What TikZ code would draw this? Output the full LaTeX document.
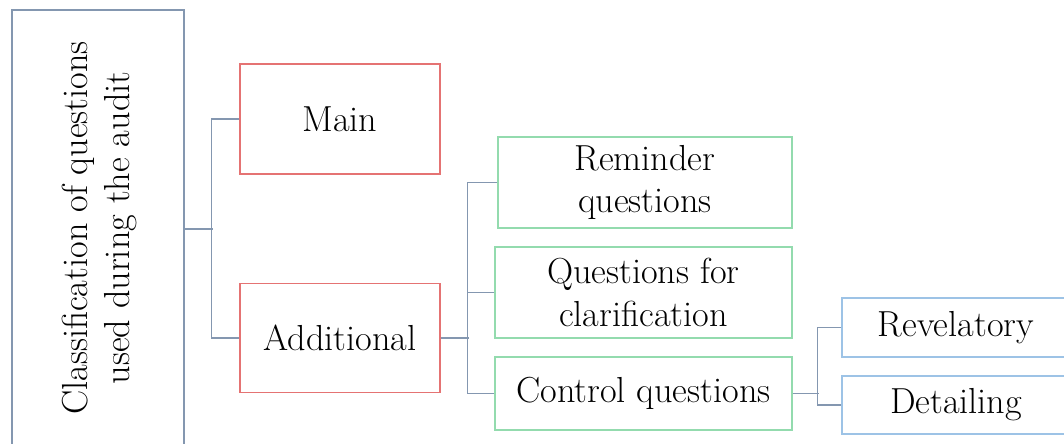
\documentclass[tikz,border=0pt]{standalone}
\usepackage{tikz}
\usetikzlibrary{positioning,calc}
\tikzset{%
  qbox/.style={rectangle,draw,line width=0.8pt,inner sep=2pt,align=center,
    font=\fontsize{20.6}{24}\selectfont},
  qlink/.style={draw=qline,line width=0.8pt}
}

\begin{document}
\begin{tikzpicture}
% ---- colors ----
\definecolor{qline}{HTML}{8497B0}    % connectors, root frame
\definecolor{qred}{HTML}{E57373}     % first level
\definecolor{qgreen}{HTML}{93DBAE}   % second level
\definecolor{qblue}{HTML}{9DC3E6}    % third level

% geometry
\def\W{21.28}   % total width
\def\H{8.86}    % total height

\useasboundingbox (0,0) rectangle (\W,\H);
\clip (0,0) rectangle (\W,\H);

% ===================== root =====================
\node[qbox,draw=qline,minimum width=3.44cm,minimum height=8.76cm] (cls) at (1.96,4.28) {};
\node[rotate=90,align=center,font=\fontsize{20.6}{24}\selectfont] (clstext) at (1.99,4.30)
  {Classification of questions\\used during the audit};

% ===================== first level =====================
\node[qbox,draw=qred,minimum width=4.00cm,minimum height=2.20cm] (main) at (6.80,6.48) {Main};
\node[qbox,draw=qred,minimum width=4.00cm,minimum height=2.18cm] (add)  at (6.80,2.10) {Additional};

% ===================== second level =====================
\node[qbox,draw=qgreen,minimum width=5.88cm,minimum height=1.82cm] (rem) at (12.90,5.21) {Reminder\\questions};
\node[qbox,draw=qgreen,minimum width=5.94cm,minimum height=1.82cm] (clr) at (12.87,3.01) {Questions for\\clarification};
\node[qbox,draw=qgreen,minimum width=5.94cm,minimum height=1.46cm] (ctl) at (12.87,0.99) {Control questions};

% ===================== third level =====================
\node[qbox,draw=qblue,minimum width=4.56cm,minimum height=1.18cm] (rev) at (19.12,2.31) {Revelatory};
\node[qbox,draw=qblue,minimum width=4.56cm,minimum height=1.16cm] (det) at (19.12,0.76) {Detailing};

% ---- connectors ----
\draw[qlink] (cls.east) -- ++(0.56,0);
\draw[qlink] (main.west) -- ++(-0.56,0) |- (add.west);
\draw[qlink] (add.east) -- ++(0.56,0);
\draw[qlink] (rem.west) -- ++(-0.60,0) |- (ctl.west);
\draw[qlink] (clr.west) -- ++(-0.54,0);
\draw[qlink] (ctl.east) -- ++(0.52,0);
\draw[qlink] (rev.west) -- ++(-0.48,0) |- (det.west);

\end{tikzpicture}
\end{document}
